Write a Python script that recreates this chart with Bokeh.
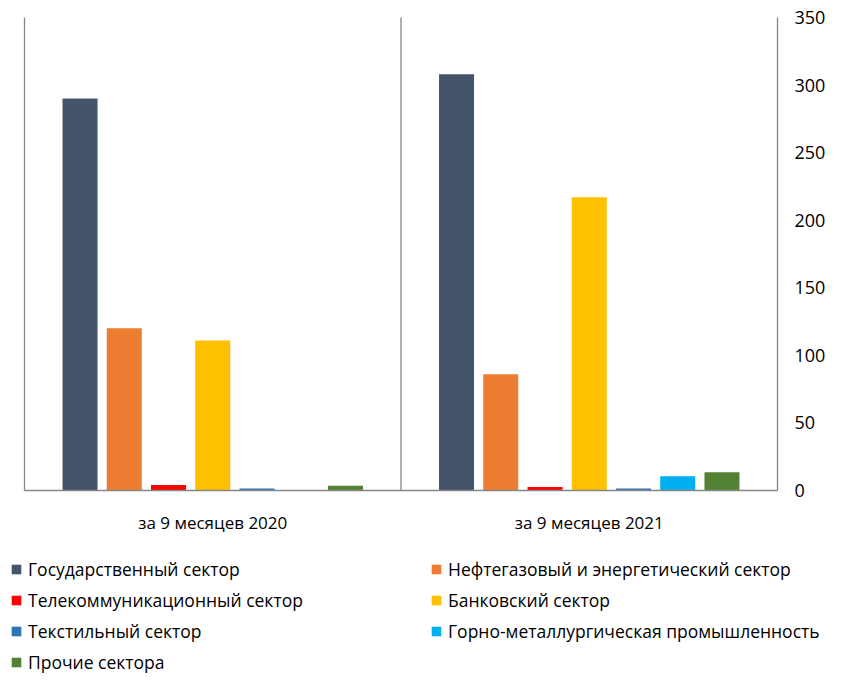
from bokeh.plotting import figure
from bokeh.models import Legend, LegendItem, ColumnDataSource, Range1d
from bokeh.transform import dodge
from bokeh.core.properties import value
from bokeh.embed import file_html
from bokeh.resources import INLINE

periods = ["за 9 месяцев 2020", "за 9 месяцев 2021"]
sectors = ["Государственный сектор", "Нефтегазовый и энергетический сектор",
           "Телекоммуникационный сектор", "Банковский сектор",
           "Текстильный сектор", "Горно-металлургическая промышленность",
           "Прочие сектора"]
gov = [290, 308]
oil = [120, 86]
telecom = [4, 2.5]
bank = [111, 217]
textile = [1.5, 1.5]
mining = [0, 10.5]
other = [3.5, 13.5]
series = [gov, oil, telecom, bank, textile, mining, other]
colors = ["#44546A", "#ED7D31", "#FF0000", "#FFC000", "#2E75B6", "#00B0F0", "#548235"]
y_ticks = [0, 50, 100, 150, 200, 250, 300, 350]

FONT = "Open Sans"
GRID = "#868686"

# layout in pixels
CANVAS_W, CANVAS_H = 825, 674
PLOT_L, PLOT_R, PLOT_T, PLOT_B = 24, 777, 17, 490   # value area
FRAME_L = 8
n = len(periods)
PXX = (PLOT_R - PLOT_L) / n            # px per category
PXU = (PLOT_B - PLOT_T) / y_ticks[-1]  # px per value unit

x_start = -(PLOT_L - FRAME_L) / PXX
x_end = n + (CANVAS_W - PLOT_R) / PXX
y_start = -(CANVAS_H - PLOT_B) / PXU
y_end = y_ticks[-1] + PLOT_T / PXU

p = figure(x_range=Range1d(x_start, x_end), y_range=Range1d(y_start, y_end),
           x_axis_location=None, y_axis_location=None,
           frame_width=CANVAS_W - FRAME_L, frame_height=CANVAS_H,
           min_border=0, min_border_left=FRAME_L, min_border_top=0,
           min_border_right=0, min_border_bottom=0,
           output_backend="svg", toolbar_location=None)
p.outline_line_color = None
p.xgrid.grid_line_color = None
p.ygrid.grid_line_color = None

centers = [i + 0.5 for i in range(n)]
data = {"xc": centers}
for i, s in enumerate(series):
    data[f"s{i}"] = s
src = ColumnDataSource(data)

renderers = []
for i in range(len(series)):
    r = p.vbar(x=dodge("xc", (i - 3) * 0.1175), top=f"s{i}", width=0.093,
               source=src, fill_color=colors[i], line_color=None)
    renderers.append(r)

# vertical separators (category boundaries) and baseline
p.segment(x0=list(range(n + 1)), y0=[0] * (n + 1),
          x1=list(range(n + 1)), y1=[y_ticks[-1]] * (n + 1),
          line_color=GRID, line_width=1.3)
p.segment(x0=[0], y0=[0], x1=[n], y1=[0], line_color=GRID, line_width=1.3)

# category labels
p.text(x=centers, y=[-32 / PXU] * n, text=periods,
       text_align="center", text_baseline="middle",
       text_font=value(FONT), text_font_size="17px", text_color="#000000")

# value tick labels on the right
p.text(x=[n + 17 / PXX] * len(y_ticks), y=y_ticks,
       text=[str(t) for t in y_ticks],
       text_align="left", text_baseline="middle",
       text_font=value(FONT), text_font_size="18px", text_color="#000000")


def make_legend(idx, x, y):
    items = [LegendItem(label=sectors[i], renderers=[renderers[i]]) for i in idx]
    return Legend(items=items, location=(x, y), orientation="vertical",
                  glyph_width=12, glyph_height=12, label_height=24,
                  label_standoff=6, spacing=7, padding=0, margin=0,
                  border_line_color=None, background_fill_alpha=0,
                  label_text_font=FONT, label_text_font_size="17.5px",
                  label_text_color="#000000")


p.add_layout(make_legend([0, 2, 4, 6], 2, 0))
p.add_layout(make_legend([1, 3, 5], 422, 31))

open("out.html", "w").write(file_html(p, INLINE))
